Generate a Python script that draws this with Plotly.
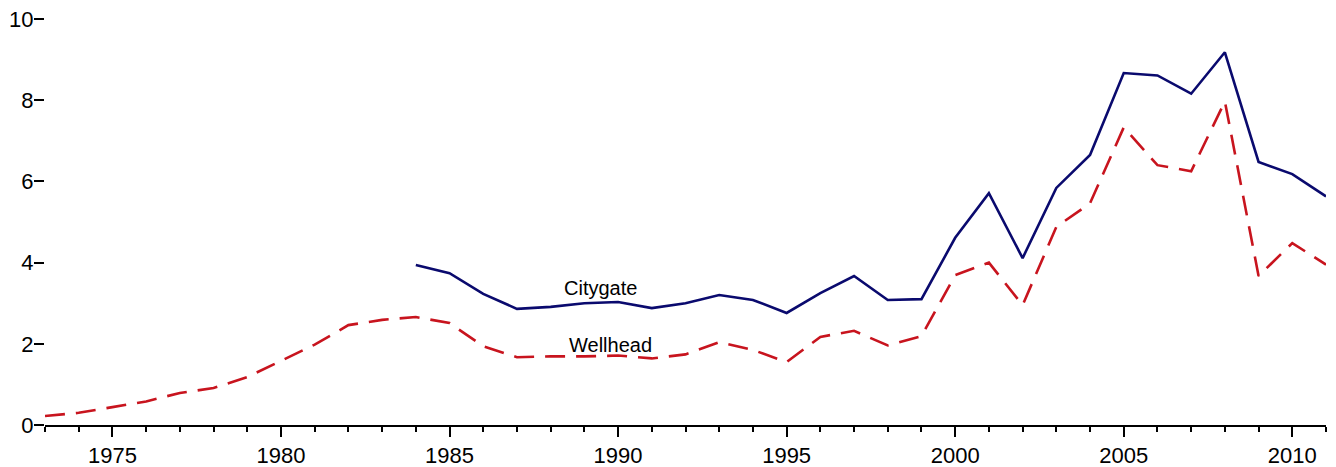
import plotly.graph_objects as go

city_years = list(range(1984, 2012))
citygate = [3.94, 3.74, 3.23, 2.86, 2.91, 3.00, 3.03, 2.88, 3.00, 3.20, 3.08, 2.76, 3.25, 3.67,
            3.08, 3.10, 4.61, 5.71, 4.11, 5.84, 6.65, 8.67, 8.61, 8.16, 9.18, 6.48, 6.18, 5.63]

well_years = list(range(1973, 2012))
wellhead = [0.22, 0.30, 0.44, 0.58, 0.79, 0.91, 1.18, 1.59, 1.98, 2.46, 2.59, 2.66, 2.51, 1.94,
            1.67, 1.69, 1.69, 1.71, 1.64, 1.74, 2.04, 1.85, 1.55, 2.17, 2.32, 1.96, 2.19, 3.69,
            4.00, 2.95, 4.88, 5.46, 7.33, 6.40, 6.25, 7.97, 3.67, 4.48, 3.95]

labels = [("Citygate", 1989.47, 3.37), ("Wellhead", 1989.77, 1.97)]

fig = go.Figure()
fig.add_trace(go.Scatter(x=well_years, y=wellhead, mode="lines", name="Wellhead",
                         line=dict(color="#c8141e", width=2.6, dash="20px,11px")))
fig.add_trace(go.Scatter(x=city_years, y=citygate, mode="lines", name="Citygate",
                         line=dict(color="#0a0a6e", width=2.6)))

for text, x, y in labels:
    fig.add_annotation(x=x, y=y, text=text, showarrow=False,
                       font=dict(family="Liberation Sans, Arial", size=20, color="black"))

fig.update_layout(
    width=1336, height=467,
    margin=dict(l=45, r=10, t=19, b=42),
    paper_bgcolor="white", plot_bgcolor="white",
    showlegend=False,
    font=dict(family="Liberation Sans, Arial", size=22, color="black"),
    xaxis=dict(range=[1973, 2011], showgrid=False, zeroline=False, automargin=False,
               showline=True, linecolor="black", linewidth=2,
               ticks="outside", tick0=1975, dtick=5, ticklen=10, tickwidth=2, tickcolor="black",
               minor=dict(dtick=1, tick0=1973, ticks="outside", ticklen=5, tickwidth=2, tickcolor="black",
                          showgrid=False),
               tickfont=dict(size=22)),
    yaxis=dict(range=[0, 10], showgrid=False, zeroline=False, showline=False, automargin=False,
               ticks="outside", dtick=2, ticklen=10, tickwidth=2, tickcolor="black",
               ticklabelstandoff=-4,
               tickfont=dict(size=22)),
)

fig.write_html("out.html", config={"displayModeBar": False},
               post_script="document.body.style.margin='0px';")
